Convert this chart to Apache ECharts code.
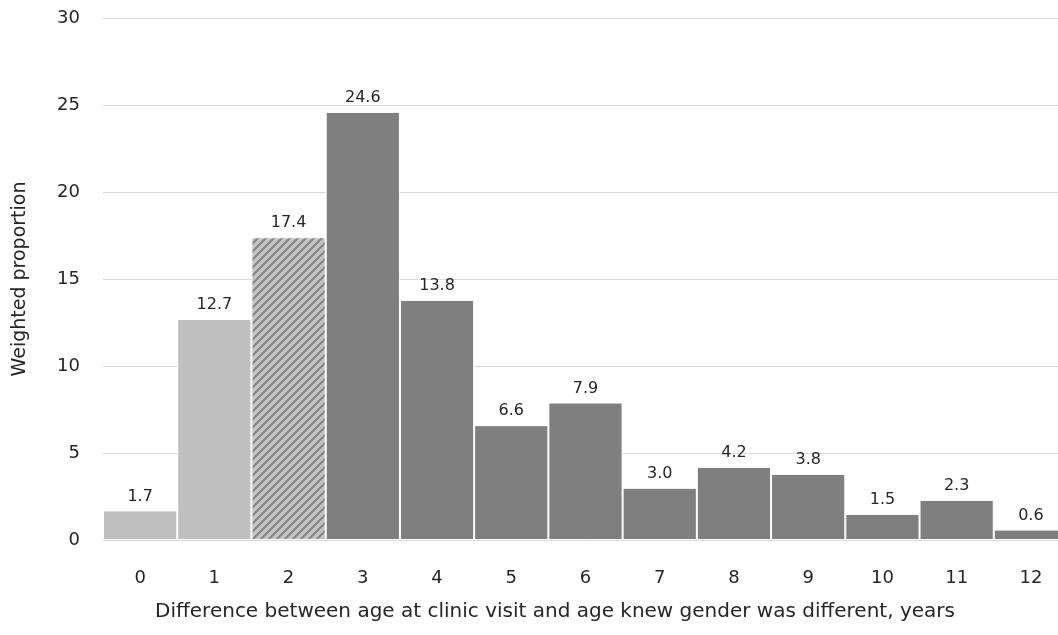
<!DOCTYPE html>
<html>
<head>
<meta charset="utf-8">
<script src="https://cdn.jsdelivr.net/npm/echarts@6/dist/echarts.min.js"></script>
<style>html,body{margin:0;padding:0;background:#fff;overflow:hidden;}#c{width:1072px;height:635px;}</style>
</head>
<body>
<div id="c"></div>
<script>
var categories = ['0','1','2','3','4','5','6','7','8','9','10','11','12'];
var values = [1.7, 12.7, 17.4, 24.6, 13.8, 6.6, 7.9, 3.0, 4.2, 3.8, 1.5, 2.3, 0.6];
var yTicks = [0, 5, 10, 15, 20, 25, 30];

var FONT = '"DejaVu Sans", Verdana, sans-serif';
var light = '#bfbfbf', dark = '#7f7f7f';

var pc = document.createElement('canvas');
pc.width = 8; pc.height = 8;
var ctx = pc.getContext('2d');
ctx.fillStyle = '#c4c4c4'; ctx.fillRect(0,0,8,8);
ctx.strokeStyle = '#858585'; ctx.lineWidth = 2.2;
ctx.beginPath();
ctx.moveTo(-2,10); ctx.lineTo(10,-2);
ctx.moveTo(-6,6); ctx.lineTo(6,-6);
ctx.moveTo(2,14); ctx.lineTo(14,2);
ctx.stroke();

var seriesData = values.map(function(v, i){
  var c = i < 2 ? light : (i === 2 ? {image: pc, repeat: 'repeat'} : dark);
  return {value: v, itemStyle: {color: c}};
});

var chart = echarts.init(document.getElementById('c'));
chart.setOption({
  animation: false,
  grid: {left: 103, width: 965, top: 18, height: 522, containLabel: false, outerBoundsMode: 'none'},
  xAxis: {
    type: 'category', data: categories,
    axisLine: {show: false}, axisTick: {show: false},
    axisLabel: {fontFamily: FONT, fontSize: 18, color: '#262626', margin: 29}
  },
  yAxis: {
    type: 'value', min: 0, max: 30, interval: 5,
    name: 'Weighted proportion', nameLocation: 'middle', nameGap: 73,
    nameTextStyle: {fontFamily: FONT, fontSize: 19, color: '#262626'},
    axisLabel: {fontFamily: FONT, fontSize: 18, color: '#262626', margin: 23},
    splitLine: {lineStyle: {color: '#d9d9d9', width: 1}}
  },
  graphic: [{
    type: 'text', x: 555, y: 612,
    style: {text: 'Difference between age at clinic visit and age knew gender was different, years',
      fontFamily: 'DejaVu Sans', fontSize: 20, fill: '#262626', align: 'center', verticalAlign: 'middle'}
  }],
  series: [{
    type: 'bar', data: seriesData, barCategoryGap: '0%',
    itemStyle: {borderColor: '#ffffff', borderWidth: 1},
    label: {show: true, position: 'top', distance: 6, fontFamily: FONT, fontSize: 16, color: '#262626',
      formatter: function(p){ return p.value.toFixed(1); }}
  }]
});
</script>
</body>
</html>
